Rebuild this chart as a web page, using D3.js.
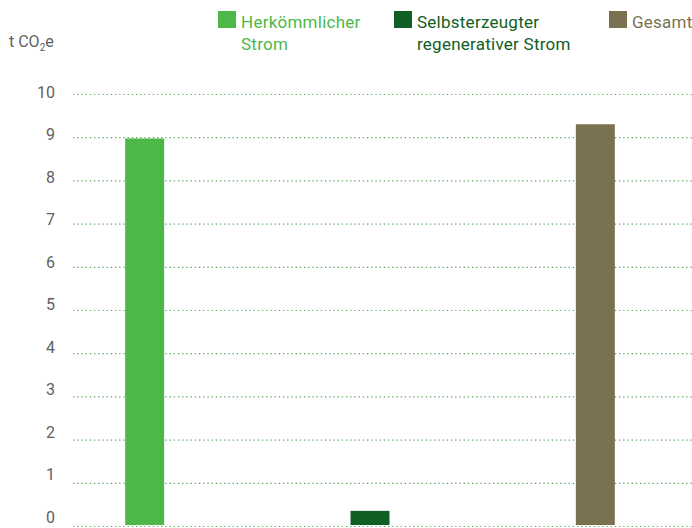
<!DOCTYPE html>
<html>
<head>
<meta charset="utf-8">
<script src="https://cdn.jsdelivr.net/npm/d3@7"></script>
<style>
	body { margin: 0; background: #fff; }
	#chart { width: 692px; height: 528px; }
	text { font-family: Roboto, "Liberation Sans", sans-serif; }
</style>
</head>
<body>
<div id="chart"></div>
<script>
// Data
const categories = ["Herkömmlicher Strom", "Selbsterzeugter regenerativer Strom", "Gesamt"]
const values = [8.97, 0.35, 9.3]
const colors = ["#4db848", "#0f5e23", "#7a7150"]
const legendLines = [["Herkömmlicher", "Strom"], ["Selbsterzeugter", "regenerativer Strom"], ["Gesamt"]]
const yTicks = [0, 1, 2, 3, 4, 5, 6, 7, 8, 9, 10]

function renderChart() {
	const width = 692
	const height = 528

	const svg = d3
		.select("#chart")
		.append("svg")
		.attr("width", width)
		.attr("height", height)

	// Scales
	const x = d3
		.scaleBand()
		.domain(categories)
		.range([32, 708])
		.paddingInner(0.827)
		.paddingOuter(0.4135)

	const y = d3.scaleLinear().domain([0, 10]).range([526, 94])

	// Gridlines
	svg.append("g")
		.attr("class", "grid")
		.selectAll("line")
		.data(yTicks)
		.join("line")
		.attr("x1", 73)
		.attr("x2", width)
		.attr("y1", (d) => y(d) + 0.5)
		.attr("y2", (d) => y(d) + 0.5)
		.style("stroke", "#3f9a45")
		.style("stroke-width", 1.2)
		.style("stroke-dasharray", "1.3,2.9")
		.style("opacity", 0.85)

	// Y axis labels
	svg.append("g")
		.attr("class", "y-axis")
		.selectAll("text")
		.data(yTicks)
		.join("text")
		.attr("x", 55)
		.attr("y", (d) => y(d) - 9 + d * 0.7)
		.attr("dy", "0.35em")
		.attr("text-anchor", "end")
		.style("font-size", "16px")
		.style("fill", "#5f5f5f")
		.text((d) => d)

	// Unit label
	const unit = svg.append("text")
		.attr("x", 9)
		.attr("y", 47)
		.style("font-size", "16px")
		.style("fill", "#5f5f5f")
	unit.append("tspan").text("t CO")
	unit.append("tspan").attr("dy", 4).style("font-size", "10px").text("2")
	unit.append("tspan").attr("dy", -4).text("e")

	// Bars
	svg.append("g")
		.selectAll("rect")
		.data(categories)
		.join("rect")
		.attr("x", (d) => x(d))
		.attr("width", x.bandwidth())
		.attr("y", (d, i) => y(values[i]))
		.attr("height", (d, i) => y(0) - 1 - y(values[i]))
		.style("fill", (d, i) => colors[i])

	// Legend
	const legendX = [218, 394, 609]
	categories.forEach((d, i) => {
		const row = svg.append("g").attr("transform", `translate(${legendX[i]}, 11)`)
		row.append("rect")
			.attr("width", 18)
			.attr("height", 17)
			.style("fill", colors[i])
		const t = row.append("text")
			.attr("x", 23)
			.attr("y", 17)
			.style("font-size", "17px")
			.style("letter-spacing", "0.25px")
			.style("fill", colors[i])
		legendLines[i].forEach((line, j) => {
			t.append("tspan").attr("x", 23).attr("y", 17 + j * 22).text(line)
		})
	})
}

renderChart()
</script>
</body>
</html>
